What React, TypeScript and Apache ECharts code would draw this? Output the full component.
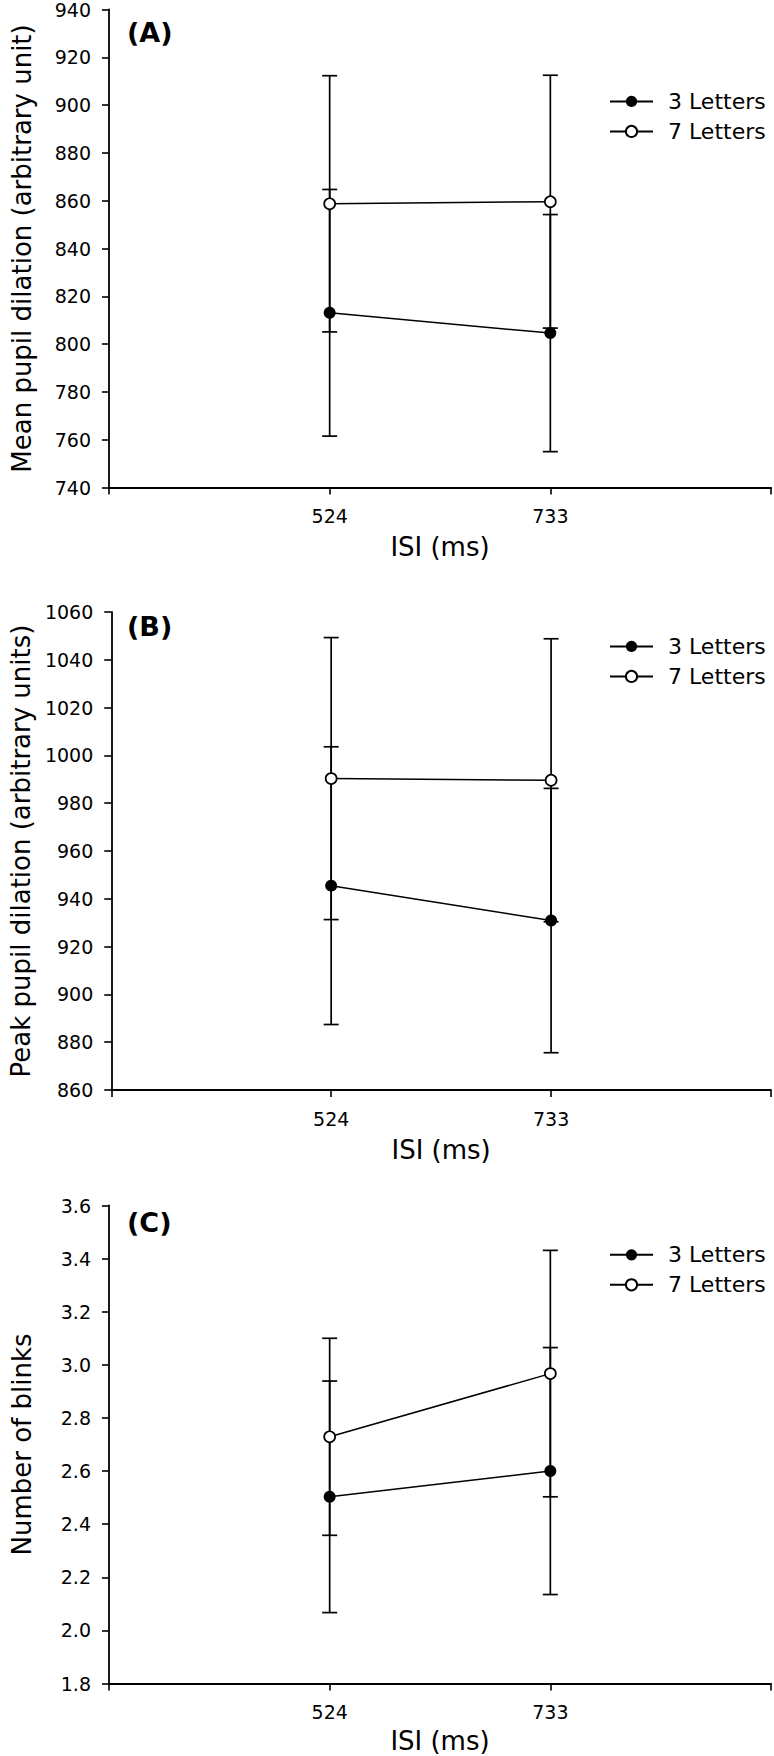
import React, { useEffect, useRef } from 'react';
import * as echarts from 'echarts';

// ---------- data ----------
const isiLabels = ['524', '733'];
const seriesNames = ['3 Letters', '7 Letters'];
const xTitle = 'ISI (ms)';
const panelLetters = ['(A)', '(B)', '(C)'];
const yTitles = [
  'Mean pupil dilation (arbitrary unit)',
  'Peak pupil dilation (arbitrary units)',
  'Number of blinks',
];
const yMins = [740, 860, 1.8];
const yMaxs = [940, 1060, 3.6];
const yIntervals = [20, 20, 0.2];
const yDecimals = [0, 0, 1];

// Panel A: mean pupil dilation
const meanA3 = [813.1, 804.6];
const semA3 = [51.6, 49.6];
const meanA7 = [858.7, 859.6];
const semA7 = [53.6, 52.9];
// Panel B: peak pupil dilation
const meanB3 = [945.5, 930.9];
const semB3 = [58.1, 55.3];
const meanB7 = [990.3, 989.6];
const semB7 = [59.0, 59.2];
// Panel C: number of blinks
const meanC3 = [2.503, 2.6];
const semC3 = [0.436, 0.465];
const meanC7 = [2.729, 2.967];
const semC7 = [0.371, 0.464];

const panelMeans = [
  [meanA3, meanA7],
  [meanB3, meanB7],
  [meanC3, meanC7],
];
const panelSems = [
  [semA3, semA7],
  [semB3, semB7],
  [semC3, semC7],
];

// ---------- layout ----------
const FONT = 'DejaVu Sans';
const gridTops = [9.5, 612, 1205.5];
const gridHeight = 478;
const gridLeft = 109;
const gridWidth = 663;
const legendTops = [85.4, 630.4, 1238.8];
const letterYs = [32, 626, 1222];
const xNameGaps = [59, 60, 57];

function buildOption() {
  const grid: any[] = [];
  const xAxis: any[] = [];
  const yAxis: any[] = [];
  const series: any[] = [];
  const legend: any[] = [];
  const graphic: any[] = [];

  for (let i = 0; i < 3; i++) {
    grid.push({ left: gridLeft, top: gridTops[i], width: gridWidth, height: gridHeight });
    xAxis.push({
      type: 'value',
      gridIndex: i,
      min: 0,
      max: isiLabels.length + 1,
      interval: 1,
      axisLine: { show: true, onZero: false, lineStyle: { color: '#000', width: 1.8 } },
      axisTick: { show: true, length: 7, lineStyle: { color: '#000', width: 1.6 } },
      splitLine: { show: false },
      axisLabel: {
        margin: 19,
        color: '#000',
        fontSize: 19,
        fontFamily: FONT,
        formatter: (v: number) =>
          Number.isInteger(v) && v >= 1 && v <= isiLabels.length ? isiLabels[v - 1] : '',
      },
      name: xTitle,
      nameLocation: 'middle',
      nameGap: xNameGaps[i],
      nameTextStyle: { color: '#000', fontSize: 26, fontFamily: FONT, verticalAlign: 'middle' },
    });
    const dec = yDecimals[i];
    yAxis.push({
      type: 'value',
      gridIndex: i,
      min: yMins[i],
      max: yMaxs[i],
      interval: yIntervals[i],
      axisLine: { show: true, onZero: false, lineStyle: { color: '#000', width: 1.8 } },
      axisTick: { show: true, length: 7, lineStyle: { color: '#000', width: 1.6 } },
      splitLine: { show: false },
      axisLabel: {
        margin: 18,
        color: '#000',
        fontSize: 19,
        fontFamily: FONT,
        formatter: (v: number) => v.toFixed(dec),
      },
      name: yTitles[i],
      nameLocation: 'middle',
      nameGap: 87,
      nameTextStyle: { color: '#000', fontSize: 26, fontFamily: FONT, verticalAlign: 'middle' },
    });

    for (let s = 0; s < 2; s++) {
      const means = panelMeans[i][s];
      const sems = panelSems[i][s];
      series.push({
        type: 'custom',
        name: 'err' + i + s,
        xAxisIndex: i,
        yAxisIndex: i,
        z: 2,
        silent: true,
        encode: { x: 0, y: 1 },
        data: means.map((m, j) => [j + 1, m, sems[j]]),
        renderItem: (params: any, api: any) => {
          const x = api.value(0);
          const m = api.value(1);
          const e = api.value(2);
          const top = api.coord([x, m + e]);
          const bot = api.coord([x, m - e]);
          const w = 7.5;
          const st = { stroke: '#000', lineWidth: 1.7 };
          return {
            type: 'group',
            children: [
              { type: 'line', shape: { x1: top[0], y1: top[1], x2: bot[0], y2: bot[1] }, style: st },
              { type: 'line', shape: { x1: top[0] - w, y1: top[1], x2: top[0] + w, y2: top[1] }, style: st },
              { type: 'line', shape: { x1: bot[0] - w, y1: bot[1], x2: bot[0] + w, y2: bot[1] }, style: st },
            ],
          };
        },
      });
    }
    for (let s = 0; s < 2; s++) {
      const means = panelMeans[i][s];
      const filled = s === 0;
      series.push({
        type: 'line',
        name: seriesNames[s],
        xAxisIndex: i,
        yAxisIndex: i,
        z: 3,
        silent: true,
        symbol: 'circle',
        symbolSize: filled ? 12 : 11,
        lineStyle: { color: '#000', width: 1.5 },
        itemStyle: filled
          ? { color: '#000', borderColor: '#000', borderWidth: 0 }
          : { color: '#fff', borderColor: '#000', borderWidth: 1.7 },
        data: means.map((m, j) => [j + 1, m]),
      });
    }

    legend.push({
      orient: 'vertical',
      left: 604,
      top: legendTops[i],
      itemWidth: 43,
      itemHeight: 14,
      itemGap: 8,
      selectedMode: false,
      data: seriesNames,
      textStyle: {
        color: '#000',
        fontSize: 22,
        fontFamily: FONT,
        lineHeight: 22,
        padding: [0, 0, 0, 10],
      },
    });

    graphic.push({
      type: 'text',
      x: 127,
      y: letterYs[i],
      style: {
        text: panelLetters[i],
        fontSize: 27,
        fontWeight: 'bold',
        fontFamily: FONT,
        fill: '#000',
        verticalAlign: 'middle',
      },
    });
  }

  return {
    animation: false,
    backgroundColor: '#fff',
    grid,
    xAxis,
    yAxis,
    series,
    legend,
    graphic,
  };
}

export default function App() {
  const ref = useRef<HTMLDivElement>(null);
  useEffect(() => {
    if (!ref.current) return;
    const chart = echarts.init(ref.current, undefined, { renderer: 'svg' });
    chart.setOption(buildOption() as any);
    return () => chart.dispose();
  }, []);
  return (
    <div
      ref={ref}
      style={{ position: 'absolute', left: 0, top: 0, width: 774, height: 1756, background: '#fff' }}
    />
  );
}
